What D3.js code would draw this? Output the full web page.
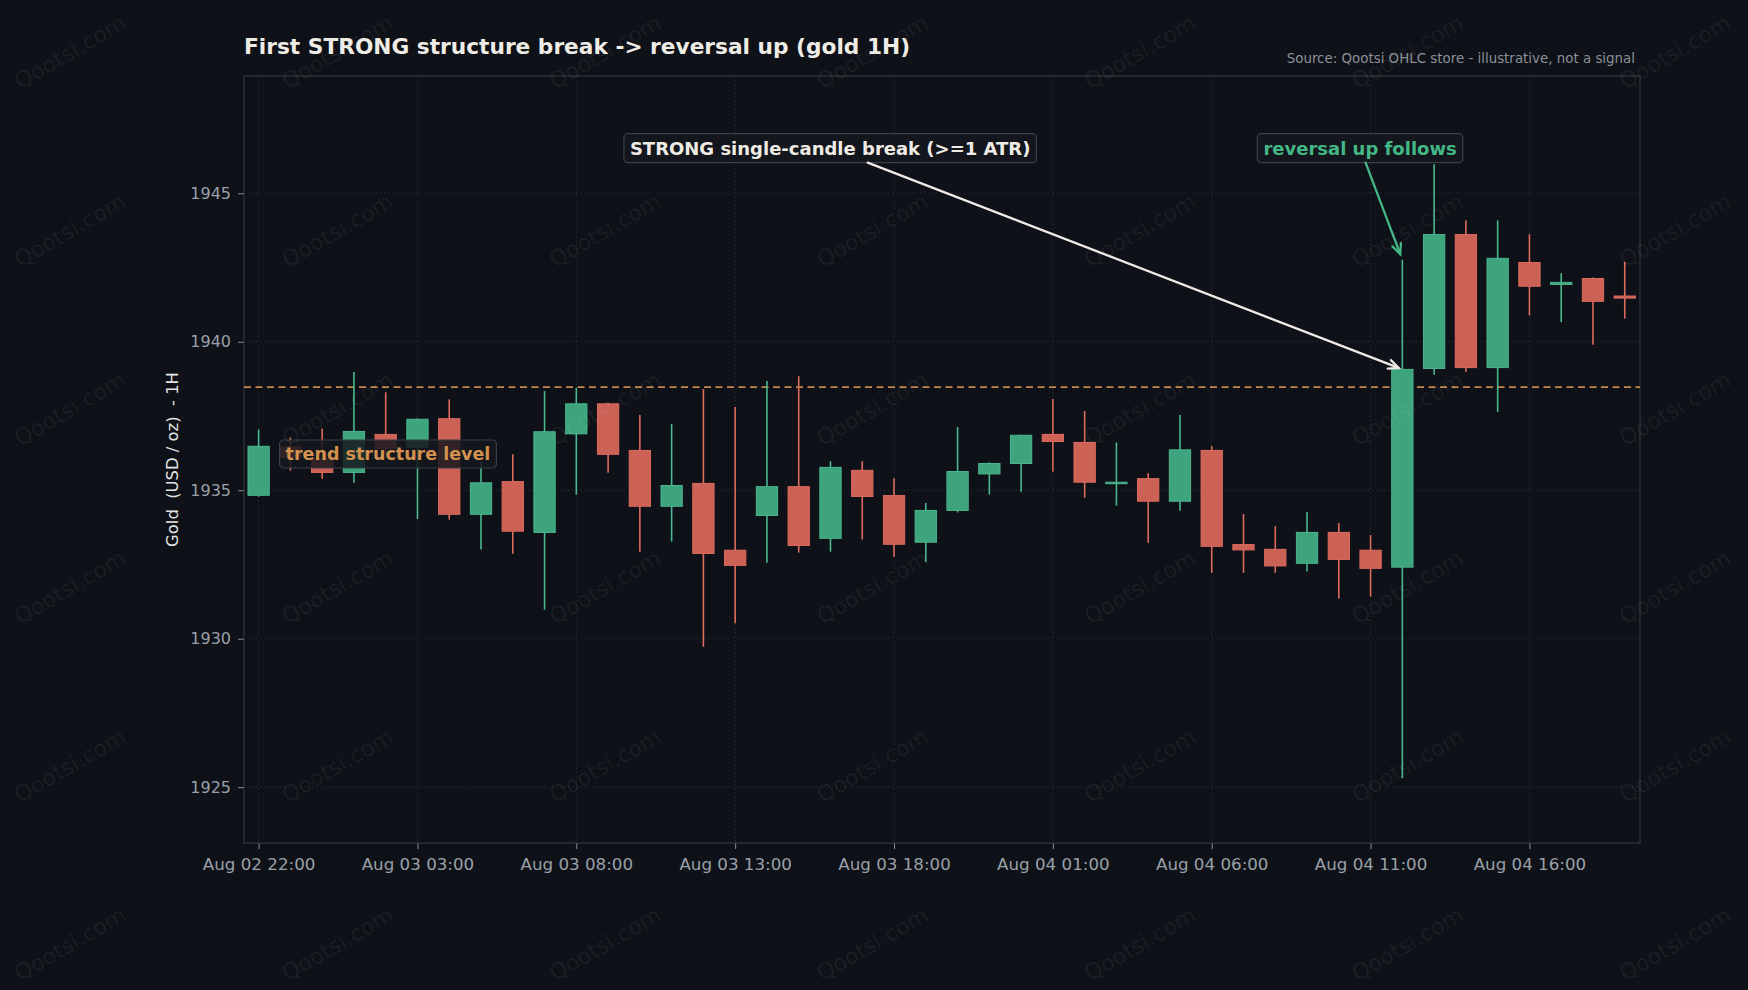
<!DOCTYPE html>
<html>
<head>
<meta charset="utf-8">
<script src="https://cdn.jsdelivr.net/npm/d3@7"></script>
<style>
    html, body { margin: 0; padding: 0; background: #0e1117; }
    svg { display: block; font-family: "DejaVu Sans", sans-serif; }
</style>
</head>
<body>
<svg id="chart" width="1748" height="990"></svg>
<script>
// hourly candles (x axis is the candle index, labels every 5 bars)
const times = [
    "Aug 02 22:00", "Aug 02 23:00", "Aug 03 00:00", "Aug 03 01:00", "Aug 03 02:00",
    "Aug 03 03:00", "Aug 03 04:00", "Aug 03 05:00", "Aug 03 06:00", "Aug 03 07:00",
    "Aug 03 08:00", "Aug 03 09:00", "Aug 03 10:00", "Aug 03 11:00", "Aug 03 12:00",
    "Aug 03 13:00", "Aug 03 14:00", "Aug 03 15:00", "Aug 03 16:00", "Aug 03 17:00",
    "Aug 03 18:00", "Aug 03 19:00", "Aug 03 20:00", "Aug 03 21:00", "Aug 04 00:00",
    "Aug 04 01:00", "Aug 04 02:00", "Aug 04 03:00", "Aug 04 04:00", "Aug 04 05:00",
    "Aug 04 06:00", "Aug 04 07:00", "Aug 04 08:00", "Aug 04 09:00", "Aug 04 10:00",
    "Aug 04 11:00", "Aug 04 12:00", "Aug 04 13:00", "Aug 04 14:00", "Aug 04 15:00",
    "Aug 04 16:00", "Aug 04 17:00", "Aug 04 18:00", "Aug 04 19:00"
];

const opens = [
    1934.83, 1936.46, 1936.07, 1935.60, 1936.88, 1936.45, 1937.41, 1934.19, 1935.29, 1933.58,
    1936.90, 1937.91, 1936.34, 1934.46, 1935.23, 1932.98, 1934.15, 1935.12, 1933.38, 1935.67,
    1934.82, 1933.25, 1934.32, 1935.55, 1935.90, 1936.88, 1936.61, 1935.22, 1935.39, 1934.63,
    1936.34, 1933.17, 1933.01, 1932.54, 1933.58, 1932.98, 1932.41, 1939.10, 1943.61, 1939.13,
    1942.67, 1941.93, 1942.13, 1941.54
];
const highs = [
    1937.05, 1936.78, 1937.08, 1938.98, 1938.30, 1937.42, 1938.06, 1935.95, 1936.21, 1938.34,
    1938.45, 1937.95, 1937.53, 1937.23, 1938.41, 1937.80, 1938.68, 1938.84, 1935.98, 1935.98,
    1935.40, 1934.57, 1937.13, 1935.94, 1936.87, 1938.07, 1937.67, 1936.61, 1935.57, 1937.53,
    1936.49, 1934.20, 1933.79, 1934.27, 1933.90, 1933.49, 1942.76, 1945.98, 1944.09, 1944.09,
    1943.62, 1942.31, 1942.16, 1942.69
];
const lows = [
    1934.78, 1935.66, 1935.39, 1935.25, 1936.20, 1934.03, 1934.01, 1933.00, 1932.86, 1930.98,
    1934.85, 1935.59, 1932.93, 1933.27, 1929.73, 1930.52, 1932.56, 1932.90, 1932.93, 1933.34,
    1932.76, 1932.59, 1934.25, 1934.85, 1934.95, 1935.62, 1934.75, 1934.48, 1933.23, 1934.31,
    1932.22, 1932.22, 1932.22, 1932.26, 1931.35, 1931.42, 1925.30, 1938.89, 1938.98, 1937.64,
    1940.89, 1940.66, 1939.90, 1940.78
];
const closes = [
    1936.48, 1936.11, 1935.60, 1936.98, 1936.41, 1937.39, 1934.19, 1935.25, 1933.62, 1936.97,
    1937.91, 1936.21, 1934.46, 1935.16, 1932.87, 1932.47, 1935.12, 1933.14, 1935.77, 1934.79,
    1933.18, 1934.32, 1935.63, 1935.90, 1936.85, 1936.64, 1935.27, 1935.27, 1934.63, 1936.36,
    1933.11, 1932.99, 1932.45, 1933.58, 1932.67, 1932.37, 1939.07, 1943.61, 1939.13, 1942.81,
    1941.87, 1942.00, 1941.36, 1941.47
];

const priceTicks = [1925, 1930, 1935, 1940, 1945];
const labelEvery = 5;
const structureLevel = 1938.47;
const breakIndex = 36;

const margin = {top: 76, right: 108, bottom: 147, left: 244};
const width = 1748 - margin.left - margin.right;
const height = 990 - margin.top - margin.bottom;

const colors = {
    up: "#3da47d", upEdge: "#4cb78e",
    down: "#cc6155", downEdge: "#dd6b5e",
    grid: "#2c3038", frame: "#3a3e46",
    tick: "#9aa0a9", level: "#c4874c"
};

const data = times.map((t, i) => ({
    i: i, time: t, open: opens[i], high: highs[i], low: lows[i], close: closes[i]
}));

const svg = d3.select("#chart");
svg.append("rect").attr("width", 1748).attr("height", 990).attr("fill", "#0e1117");

const g = svg.append("g")
    .attr("transform", `translate(${margin.left},${margin.top})`);

const x = d3.scaleLinear().domain([-0.46, 43.48]).range([0, width]);
const y = d3.scaleLinear().domain([1923.12, 1948.95]).range([height, 0]);

const tickIdx = data.filter(d => d.i % labelEvery === 0).map(d => d.i);

// Grid
g.append("g").selectAll("line")
    .data(tickIdx)
    .enter().append("line")
    .attr("x1", d => x(d)).attr("x2", d => x(d))
    .attr("y1", 0).attr("y2", height)
    .attr("stroke", colors.grid).attr("stroke-width", 1)
    .attr("stroke-dasharray", "1.2,2.8");

g.append("g").selectAll("line")
    .data(priceTicks)
    .enter().append("line")
    .attr("x1", 0).attr("x2", width)
    .attr("y1", d => y(d)).attr("y2", d => y(d))
    .attr("stroke", colors.grid).attr("stroke-width", 1)
    .attr("stroke-dasharray", "1.2,2.8");

// Axes
const yAxis = g.append("g")
    .call(d3.axisLeft(y).tickValues(priceTicks).tickSize(6).tickPadding(7).tickFormat(d3.format("d")));
const xAxis = g.append("g")
    .attr("transform", `translate(0,${height})`)
    .call(d3.axisBottom(x).tickValues(tickIdx).tickSize(6).tickPadding(9).tickFormat(i => times[i]));

[yAxis, xAxis].forEach(ax => {
    ax.select(".domain").remove();
    ax.selectAll(".tick line").attr("stroke", "#8a8f98");
    ax.selectAll(".tick text")
        .attr("fill", colors.tick)
        .style("font-family", "DejaVu Sans");
});
yAxis.selectAll(".tick text").style("font-size", "16px");
xAxis.selectAll(".tick text").style("font-size", "16.7px");

// Frame
g.append("rect")
    .attr("width", width).attr("height", height)
    .attr("fill", "none").attr("stroke", colors.frame).attr("stroke-width", 1);

// Structure level
g.append("line")
    .attr("x1", 0).attr("x2", width)
    .attr("y1", y(structureLevel)).attr("y2", y(structureLevel))
    .attr("stroke", colors.level).attr("stroke-width", 1.7)
    .attr("stroke-dasharray", "7,4.5");

// Candles
const step = x(1) - x(0);
const bodyW = step * 0.67;

const candles = g.append("g").selectAll("g")
    .data(data)
    .enter().append("g");

candles.append("line")
    .attr("x1", d => x(d.i)).attr("x2", d => x(d.i))
    .attr("y1", d => y(d.high)).attr("y2", d => y(d.low))
    .attr("stroke", d => d.close >= d.open ? colors.upEdge : colors.downEdge)
    .attr("stroke-width", 1.6);

candles.append("rect")
    .attr("x", d => x(d.i) - bodyW / 2)
    .attr("width", bodyW)
    .attr("y", d => y(Math.max(d.open, d.close)))
    .attr("height", d => Math.max(1.5, Math.abs(y(d.open) - y(d.close))))
    .attr("fill", d => d.close >= d.open ? colors.up : colors.down)
    .attr("stroke", d => d.close >= d.open ? colors.upEdge : colors.downEdge)
    .attr("stroke-width", 1);

// Text boxes with optional arrow
function labelBox(txt, cx, cy, anchor, color, size, target, arrowColor, shrink) {
    const grp = g.append("g");
    const bg = grp.append("rect");
    const t = grp.append("text")
        .attr("x", cx).attr("y", cy)
        .attr("text-anchor", anchor)
        .attr("dominant-baseline", "central")
        .attr("fill", color)
        .style("font-size", size + "px")
        .style("font-weight", "bold")
        .text(txt);
    const bb = t.node().getBBox();
    const padX = 6, padY = 4;
    const box = {x0: bb.x - padX, y0: bb.y - padY, x1: bb.x + bb.width + padX, y1: bb.y + bb.height + padY};
    bg.attr("x", box.x0).attr("y", box.y0)
        .attr("width", box.x1 - box.x0).attr("height", box.y1 - box.y0)
        .attr("rx", 4)
        .attr("fill", "#14171d").attr("fill-opacity", 0.85)
        .attr("stroke", "#3b3f48").attr("stroke-width", 1.2);

    if (!target) return;
    const mx = (box.x0 + box.x1) / 2, my = (box.y0 + box.y1) / 2;
    const tx = x(target[0]), ty = y(target[1]);
    const dx = tx - mx, dy = ty - my;
    // leave the box through its edge
    const sx = (box.x1 - mx) / Math.abs(dx || 1e-9);
    const sy = (box.y1 - my) / Math.abs(dy || 1e-9);
    const s0 = Math.min(sx, sy);
    const len = Math.hypot(dx, dy);
    const ux = dx / len, uy = dy / len;
    const x0 = mx + dx * s0, y0 = my + dy * s0;
    const x1 = tx - ux * shrink, y1 = ty - uy * shrink;
    const headL = 10, headW = 4.5;
    const arrow = g.append("g")
        .attr("stroke", arrowColor).attr("fill", "none")
        .attr("stroke-width", 2.3).attr("stroke-linecap", "round");
    arrow.append("line").attr("x1", x0).attr("y1", y0).attr("x2", x1).attr("y2", y1);
    arrow.append("path")
        .attr("d", `M${x1 - ux * headL - uy * headW},${y1 - uy * headL + ux * headW}` +
                   `L${x1},${y1}` +
                   `L${x1 - ux * headL + uy * headW},${y1 - uy * headL - ux * headW}`);
}

labelBox("trend structure level", x(0.85), y(structureLevel - 2.25), "start", "#d2914f", 17.5);
labelBox("STRONG single-candle break (>=1 ATR)", x(17.99), y(1946.52), "middle", "#efebe4", 18,
    [breakIndex, closes[breakIndex]], "#efebe4", 4);
labelBox("reversal up follows", x(34.67), y(1946.52), "middle", "#43b886", 18,
    [breakIndex, highs[breakIndex]], "#43b886", 6);

// Title and source
svg.append("text")
    .attr("x", margin.left).attr("y", 54)
    .attr("fill", "#efece6")
    .style("font-size", "21.7px").style("font-weight", "bold")
    .text("First STRONG structure break -> reversal up (gold 1H)");

svg.append("text")
    .attr("x", 1635).attr("y", 62.5)
    .attr("text-anchor", "end")
    .attr("fill", "#8b9099")
    .style("font-size", "13.4px")
    .text("Source: Qootsi OHLC store - illustrative, not a signal");

svg.append("text")
    .attr("transform", `translate(178,${margin.top + height / 2}) rotate(-90)`)
    .attr("text-anchor", "middle")
    .attr("fill", "#e4e4e4")
    .style("font-size", "16.4px")
    .style("white-space", "pre")
    .text("Gold  (USD / oz)  - 1H");

// Watermark
const wmCols = d3.range(7), wmRows = d3.range(6);
const wm = svg.append("g").attr("fill", "#ffffff").attr("fill-opacity", 0.06)
    .style("font-size", "22px");
wmRows.forEach(r => wmCols.forEach(c => {
    wm.append("text")
        .attr("transform", `translate(${70 + c * 267.5},${52 + r * 178.4}) rotate(-30)`)
        .attr("text-anchor", "middle")
        .attr("dominant-baseline", "central")
        .text("Qootsi.com");
}));
</script>
</body>
</html>
